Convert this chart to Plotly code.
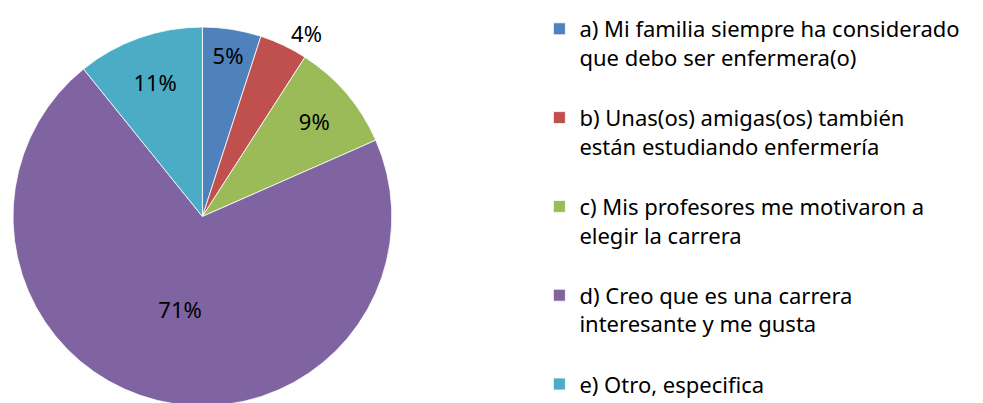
import plotly.graph_objects as go

labels = [
    "a) Mi familia siempre ha considerado<br>que debo ser enfermera(o)<br> ",
    "b) Unas(os) amigas(os) también<br>están estudiando enfermería<br> ",
    "c) Mis profesores me motivaron a<br>elegir la carrera<br> ",
    "d) Creo que es una carrera<br>interesante y me gusta<br> ",
    "e) Otro, especifica",
]
values = [5.0, 4.1, 9.3, 70.8, 10.8]
colors = ["#4F81BD", "#C0504D", "#9BBB59", "#8064A2", "#4BACC6"]
text_positions = ["inside", "outside", "inside", "inside", "inside"]

W, H = 983, 403
fig = go.Figure(go.Pie(
    labels=labels,
    values=values,
    sort=False,
    direction="clockwise",
    rotation=0,
    marker=dict(colors=colors, line=dict(color="white", width=0.8)),
    texttemplate="%{percent:.0%}",
    textposition=text_positions,
    insidetextorientation="horizontal",
    textfont=dict(family="Noto Sans", size=22, color="black"),
    domain=dict(x=[2 / W, 382 / W], y=[4 / H, 384 / H]),
    hoverinfo="label+percent",
))
fig.update_layout(
    width=W, height=H,
    margin=dict(l=0, r=0, t=0, b=0),
    paper_bgcolor="white",
    showlegend=True,
    uniformtext=dict(minsize=22, mode="show"),
    legend=dict(
        x=530 / W, y=1, xanchor="left", yanchor="top",
        valign="top",
        font=dict(family="Noto Sans", size=22, color="black"),
        bgcolor="rgba(0,0,0,0)",
    ),
)
fig.write_html("out.html")
